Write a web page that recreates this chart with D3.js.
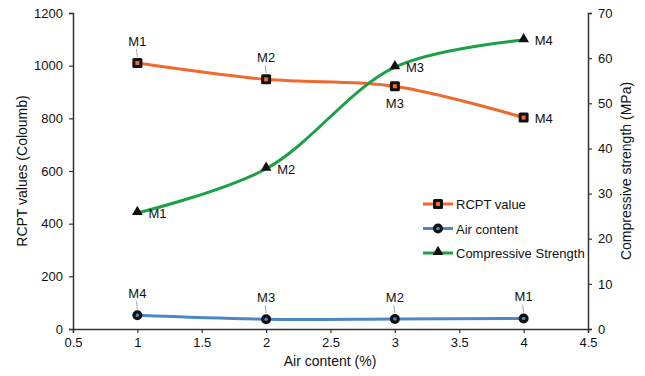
<!DOCTYPE html>
<html><head><meta charset="utf-8">
<script src="https://cdn.jsdelivr.net/npm/d3@7"></script>
<style>body{margin:0;background:#fff}text{font-family:"Liberation Sans",Arial,sans-serif;fill:#111}</style>
</head><body><svg id="c" width="645" height="376"></svg>
<script>
const airX = [1, 2, 3, 4];
const rcptValues = [1010, 948, 922, 803];
const rcptLabels = ["M1", "M2", "M3", "M4"];
const airValues = [52, 37, 38, 40];
const airLabels = ["M4", "M3", "M2", "M1"];
const strengthValues = [25.7, 35.5, 58.0, 64.0];
const strengthLabels = ["M1", "M2", "M3", "M4"];
const xTicks = [0.5, 1, 1.5, 2, 2.5, 3, 3.5, 4, 4.5];
const yLeftTicks = [0, 200, 400, 600, 800, 1000, 1200];
const yRightTicks = [0, 10, 20, 30, 40, 50, 60, 70];

const svg = d3.select("#c");
const L = 73, R = 588, T = 13, B = 329;
const x = d3.scaleLinear().domain([0.5, 4.5]).range([L, R]);
const yL = d3.scaleLinear().domain([0, 1200]).range([B, T]);
const yR = d3.scaleLinear().domain([0, 70]).range([B, T]);

const orange = "#EE6A2E", blue = "#4C87C6", green = "#1BA046";

function styleAxis(g){
  g.selectAll("path").attr("stroke","#333").attr("stroke-width",1.5);
  g.selectAll("line").attr("stroke","#333").attr("stroke-width",1.2);
  g.selectAll("text").style("font-family","Liberation Sans, Arial, sans-serif").style("font-size","13px").attr("fill","#111");
}
svg.append("g").attr("transform",`translate(0,${B})`)
  .call(d3.axisBottom(x).tickValues(xTicks).tickFormat(d=>String(d)).tickSizeOuter(0).tickSize(4).tickPadding(5)).call(styleAxis);
svg.append("g").attr("transform",`translate(${L},0)`)
  .call(d3.axisLeft(yL).tickValues(yLeftTicks).tickFormat(d=>String(d)).tickSizeOuter(0).tickSize(4).tickPadding(6)).call(styleAxis);
svg.append("g").attr("transform",`translate(${R},0)`)
  .call(d3.axisRight(yR).tickValues(yRightTicks).tickFormat(d=>String(d)).tickSizeOuter(0).tickSize(4).tickPadding(6)).call(styleAxis);

svg.append("text").attr("x",330).attr("y",366).attr("text-anchor","middle").style("font-size","14px").text("Air content (%)");
svg.append("text").attr("transform",`translate(27,${(T+B)/2}) rotate(-90)`).attr("text-anchor","middle").style("font-size","14px").text("RCPT values (Coloumb)");
svg.append("text").attr("transform",`translate(631,${(T+B)/2}) rotate(-90)`).attr("text-anchor","middle").style("font-size","14px").text("Compressive strength (MPa)");

const curve = d3.curveCatmullRom.alpha(0.5);
function series(vals, y, color){
  const pts = airX.map((d,i)=>[x(d), y(vals[i])]);
  svg.append("path").attr("d", d3.line().curve(curve)(pts)).attr("fill","none").attr("stroke",color).attr("stroke-width",3);
  return pts;
}
const pR = series(rcptValues, yL, orange);
const pA = series(airValues, yL, blue);
const pS = series(strengthValues, yR, green);

// markers
pR.forEach(([px,py])=>{
  svg.append("rect").attr("x",px-5).attr("y",py-5).attr("width",10).attr("height",10).attr("rx",1.5).attr("fill","#111");
  svg.append("rect").attr("x",px-2).attr("y",py-2).attr("width",4).attr("height",4).attr("fill",orange);
});
pA.forEach(([px,py])=>{
  svg.append("circle").attr("cx",px).attr("cy",py).attr("r",5).attr("fill","#111");
  svg.append("circle").attr("cx",px).attr("cy",py).attr("r",1.8).attr("fill",blue);
});
const tri = d3.symbol().type(d3.symbolTriangle).size(50);
pS.forEach(([px,py])=>{
  svg.append("path").attr("d",tri()).attr("transform",`translate(${px},${py-1})`).attr("fill","#111");
});

// data labels
function label(px,py,txt,pos){
  const t = svg.append("text").style("font-size","13px").text(txt);
  if(pos==="above"){
    t.attr("x",px).attr("y",py-17).attr("text-anchor","middle");
    svg.append("line").attr("x1",px-1).attr("x2",px).attr("y1",py-14).attr("y2",py-6).attr("stroke","#aaa").attr("stroke-width",1);
  } else if(pos==="below"){
    t.attr("x",px).attr("y",py+22).attr("text-anchor","middle");
  } else {
    t.attr("x",px+11).attr("y",py+5).attr("text-anchor","start");
  }
}
pR.forEach(([px,py],i)=>label(px,py,rcptLabels[i],["above","above","below","right"][i]));
pA.forEach(([px,py],i)=>label(px,py,airLabels[i],"above"));
pS.forEach(([px,py],i)=>label(px,py,strengthLabels[i],"right"));

// legend
const leg = [["RCPT value",orange,"sq"],["Air content",blue,"ci"],["Compressive Strength",green,"tr"]];
leg.forEach(([name,color,m],i)=>{
  const ly = 204 + i*24.5, lx = 423;
  svg.append("line").attr("x1",lx).attr("x2",lx+30).attr("y1",ly).attr("y2",ly).attr("stroke",color).attr("stroke-width",3);
  const cx = lx+15;
  if(m==="sq"){
    svg.append("rect").attr("x",cx-5).attr("y",ly-5).attr("width",10).attr("height",10).attr("rx",1.5).attr("fill","#111");
    svg.append("rect").attr("x",cx-2).attr("y",ly-2).attr("width",4).attr("height",4).attr("fill",orange);
  } else if(m==="ci"){
    svg.append("circle").attr("cx",cx).attr("cy",ly).attr("r",5).attr("fill","#111");
    svg.append("circle").attr("cx",cx).attr("cy",ly).attr("r",1.8).attr("fill",blue);
  } else {
    svg.append("path").attr("d",tri()).attr("transform",`translate(${cx},${ly-1})`).attr("fill","#111");
  }
  svg.append("text").attr("x",lx+33).attr("y",ly+5).style("font-size","13px").text(name);
});
</script></body></html>
